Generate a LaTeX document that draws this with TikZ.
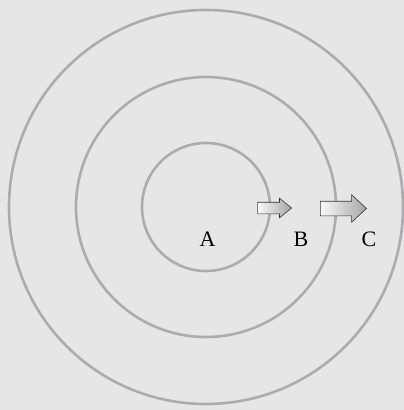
\documentclass[tikz,border=0pt]{standalone}
\usepackage{fontspec}
\setmainfont{Liberation Serif}
\usetikzlibrary{shapes.arrows}
\definecolor{backdrop}{RGB}{230,230,230}
\definecolor{ring}{RGB}{172,171,176}
\definecolor{arrowdark}{RGB}{165,165,168}

\tikzset{
  ring/.style = {draw=ring, line width=2.6pt},
  flow/.style = {single arrow, draw=black!80, line width=0.6pt,
                 left color=white!95!gray, right color=arrowdark,
                 inner xsep=0pt, single arrow head indent=0pt},
  letter/.style = {font=\fontsize{22}{22}\selectfont}
}

\begin{document}
\begin{tikzpicture}[x=1pt, y=-1pt]
  \fill[backdrop] (0,0) rectangle (404,410);
  \useasboundingbox (0,0) rectangle (404,410);

  \coordinate (centre) at (206,207);
  \draw[ring] (centre) circle[radius=197];
  \draw[ring] (centre) circle[radius=130];
  \draw[ring] (centre) circle[radius=64];

  \node[flow, inner ysep=5.5pt, single arrow head extend=4pt,
        single arrow tip angle=78, minimum height=34pt] (inner arrow) at (271,208) {};
  \node[flow, inner ysep=7pt, single arrow head extend=6.5pt,
        single arrow tip angle=86, minimum height=46pt] (outer arrow) at (339.5,208.5) {};

  \node[letter] (A) at (207.5,239) {A};
  \node[letter] (B) at (301,239) {B};
  \node[letter] (C) at (369,239) {C};
\end{tikzpicture}
\end{document}
